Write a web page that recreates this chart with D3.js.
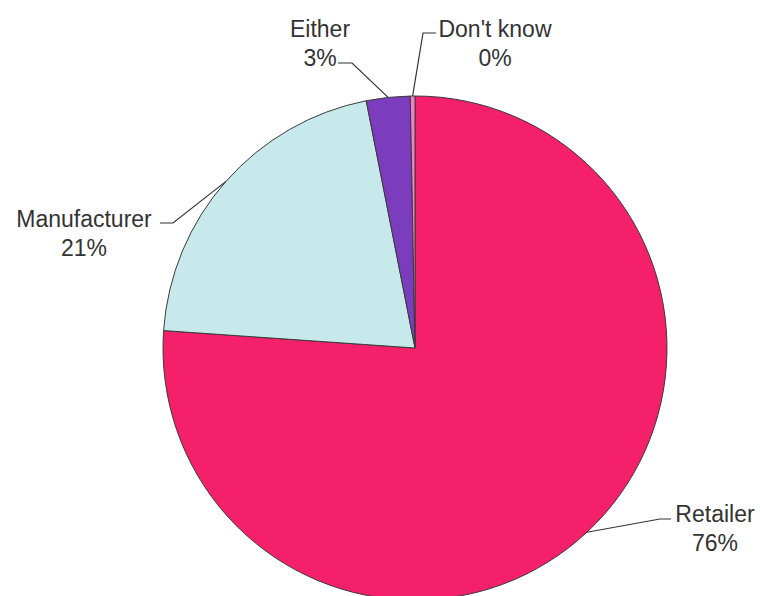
<!DOCTYPE html>
<html>
<head>
<meta charset="utf-8">
<script src="https://cdn.jsdelivr.net/npm/d3@7"></script>
<style>
  html, body { margin: 0; padding: 0; background: #ffffff; }
  svg { display: block; }
  text { font-family: "Liberation Sans", Arial, sans-serif; }
</style>
</head>
<body>
<svg id="chart" width="760" height="596"></svg>
<script>
// ---- data ----
const categories = ["Retailer", "Manufacturer", "Either", "Don't know"];
const values = [76.1, 20.8, 2.8, 0.3];
const valueLabels = ["76%", "21%", "3%", "0%"];
const colors = ["#f5206a", "#c8e9ec", "#7b3dbd", "#f27fc0"];

// ---- label layout (annotation placement) ----
const labelLayout = [
  { cx: 715, y: 522, lx: 671, ly: 519, kx: 660 },   // Retailer
  { cx: 84,  y: 227, lx: 160, ly: 223, kx: 173 },   // Manufacturer
  { cx: 320, y: 37,  lx: 338, ly: 63,  kx: 352, second: true }, // Either
  { cx: 495, y: 37,  lx: 436, ly: 33,  kx: 423 }    // Don't know
];

const svg = d3.select("#chart");
const cx = 415, cy = 348, r = 252;

const data = categories.map((c, i) => ({ name: c, value: values[i], label: valueLabels[i], color: colors[i], layout: labelLayout[i] }));

const pie = d3.pie().value(d => d.value).sort(null);
const arcs = pie(data);
const arc = d3.arc().innerRadius(0).outerRadius(r);

const g = svg.append("g").attr("transform", `translate(${cx},${cy})`);

g.selectAll("path.slice")
  .data(arcs)
  .join("path")
  .attr("class", "slice")
  .attr("d", arc)
  .attr("fill", d => d.data.color)
  .attr("stroke", "#3a3a3a")
  .attr("stroke-width", 1)
  .attr("stroke-linejoin", "round");

// leader lines
arcs.forEach(a => {
  const mid = (a.startAngle + a.endAngle) / 2;
  const px = cx + r * Math.sin(mid);
  const py = cy - r * Math.cos(mid);
  const L = a.data.layout;
  svg.append("path")
    .attr("d", `M${px},${py} L${L.kx},${L.ly} L${L.lx},${L.ly}`)
    .attr("fill", "none")
    .attr("stroke", "#333")
    .attr("stroke-width", 1.2);
});

// labels
arcs.forEach(a => {
  const L = a.data.layout;
  const t = svg.append("text")
    .attr("text-anchor", "middle")
    .attr("font-size", 23)
    .attr("fill", "#333");
  t.append("tspan").attr("x", L.cx).attr("y", L.y).text(a.data.name);
  t.append("tspan").attr("x", L.cx).attr("y", L.y + 29).text(a.data.label);
});
</script>
</body>
</html>
